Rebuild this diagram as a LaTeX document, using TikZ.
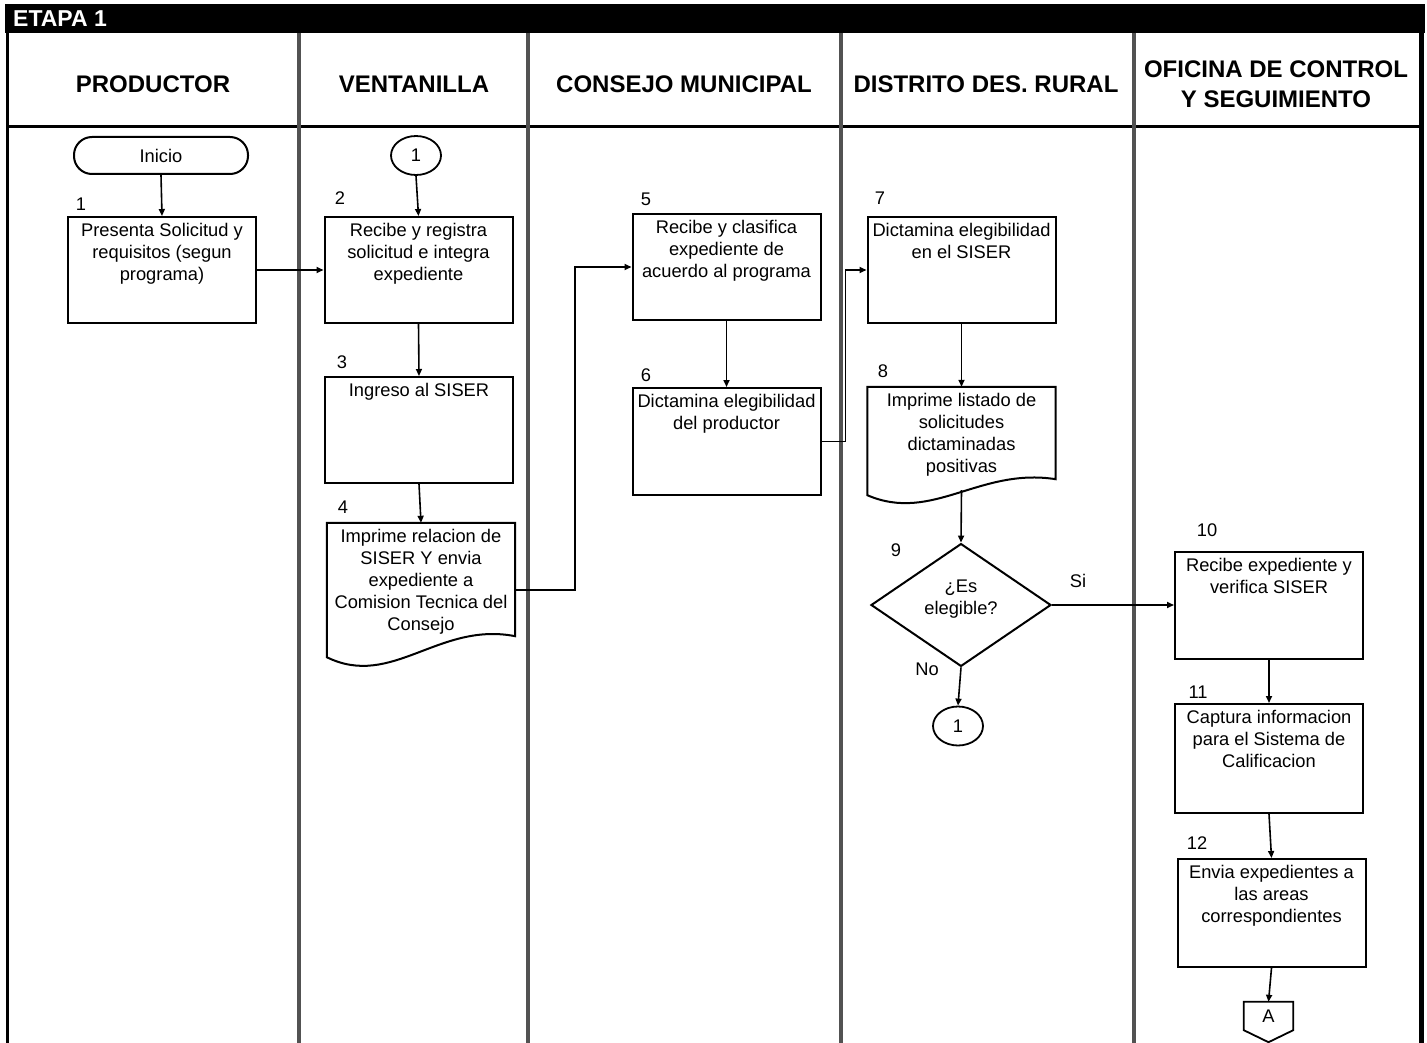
\documentclass[tikz,border=0pt]{standalone}
\usepackage{fontspec}
\setmainfont{Liberation Sans}
\usetikzlibrary{arrows.meta,shapes.geometric,calc}
\newcommand{\bt}[2]{\parbox[c][#1pt][t]{188pt}{\centering\rule{0pt}{19.5pt}#2}}
\begin{document}
\begin{tikzpicture}[x=1pt,y=-1pt,
  every node/.style={font=\fontsize{18.3}{22}\selectfont},
  box/.style={draw,line width=2pt,inner sep=0pt},
  docbox/.style={inner sep=0pt},
  doc/.style={draw,line width=2pt,line join=miter},
  conn/.style={draw,ellipse,line width=1.8pt,inner sep=0pt,minimum width=50pt,minimum height=39pt},
  arr/.style={line width=1.6pt,-{Triangle[length=7pt,width=6pt]}},
  lbl/.style={inner sep=0pt},
  hdr/.style={font=\fontsize{24}{30}\selectfont\bfseries,align=center,inner sep=0pt},
  sep/.style={line width=4pt,black!68},
  frame/.style={line width=3pt,black},
]
\useasboundingbox (0,0) rectangle (1427,1043);
% title bar
\fill[black] (5,4) rectangle (1425,33);
\node[anchor=west,text=white,font=\fontsize{23}{26}\selectfont\bfseries,inner sep=0pt] (etapa) at (13,19) {ETAPA 1};
% frame and lanes
\draw[frame] (7,33) -- (7,1043);
\draw[line width=5pt] (1421,33) -- (1421,1043);
\draw[frame] (7,126.5) -- (1421,126.5);
\foreach \x in {299,528,841,1134} \draw[sep] (\x,33) -- (\x,1043);
% headers
\node[hdr] (h1) at (153,84) {PRODUCTOR};
\node[hdr] (h2) at (414,84) {VENTANILLA};
\node[hdr] (h3) at (684,84) {CONSEJO MUNICIPAL};
\node[hdr] (h4) at (986,84) {DISTRITO DES. RURAL};
\node[hdr] (h5) at (1276,84) {OFICINA DE CONTROL\\Y SEGUIMIENTO};
% nodes
\node[box,rounded corners=18pt,minimum width=174pt,minimum height=37pt] (ini) at (161,155.5) {Inicio};
\node[conn] (c1) at (416,155.5) {1};
\node[box] (b1) at (162,270) {\bt{106}{Presenta Solicitud y\\requisitos (segun\\programa)}};
\node[box] (b2) at (418.5,270) {\bt{106}{Recibe y registra\\solicitud e integra\\expediente}};
\node[box] (b3) at (419,430) {\bt{106}{Ingreso al SISER}};
\node[docbox] (d4) at (421,590) {\bt{134}{Imprime relacion de\\SISER Y envia\\expediente a\\Comision Tecnica del\\Consejo}};
\draw[doc] (d4.north west) -- (d4.north east) -- ($(d4.south east)+(0,-21)$)
  .. controls ($(d4.south west)+(112,-36)$) and ($(d4.south west)+(65,32)$) .. (d4.south west) -- cycle;
\node[box] (b5) at (726.5,267) {\bt{106}{Recibe y clasifica\\expediente de\\acuerdo al programa}};
\node[box] (b6) at (726.5,441.5) {\bt{107}{Dictamina elegibilidad\\del productor}};
\node[box] (b7) at (961.5,270) {\bt{106}{Dictamina elegibilidad\\en el SISER}};
\node[docbox] (d8) at (961.5,441) {\bt{108}{Imprime listado de\\solicitudes\\dictaminadas\\positivas}};
\draw[doc] (d8.north west) -- (d8.north east) -- ($(d8.south east)+(0,-16)$)
  .. controls ($(d8.south west)+(112,-28)$) and ($(d8.south west)+(65,28)$) .. (d8.south west) -- cycle;
\coordinate (d8b) at ($(d8.south)+(0,-5)$);
\node[draw,diamond,line width=2pt,minimum width=180pt,minimum height=122pt,inner sep=0pt,align=center,text depth=15pt] (dia) at (961,605) {¿Es\\elegible?};
\node[conn] (c2) at (958,726) {1};
\node[box] (b10) at (1269,605) {\bt{107}{Recibe expediente y\\verifica SISER}};
\node[box] (b11) at (1269,758.5) {\bt{109}{Captura informacion\\para el Sistema de\\Calificacion}};
\node[box] (b12) at (1271.5,913) {\bt{108}{Envia expedientes a\\las areas\\correspondientes}};
\node[inner sep=0pt,minimum width=49pt,minimum height=28pt] (A) at (1268.5,1016) {A};
\draw[line width=1.8pt] (A.north west) -- (A.north east) -- (A.south east) -- ($(A.south)+(0,12)$) -- (A.south west) -- cycle;
% step numbers
\node[lbl] (n1) at (81,204) {1};
\node[lbl] (n2) at (340,198) {2};
\node[lbl] (n3) at (342,362) {3};
\node[lbl] (n4) at (343,507) {4};
\node[lbl] (n5) at (646,199) {5};
\node[lbl] (n6) at (646,375) {6};
\node[lbl] (n7) at (880,198) {7};
\node[lbl] (n8) at (883,371) {8};
\node[lbl] (n9) at (896,550) {9};
\node[lbl] (n10) at (1207,530) {10};
\node[lbl] (n11) at (1198,692) {11};
\node[lbl] (n12) at (1197,843) {12};
\node[lbl] (si) at (1078,581) {Si};
\node[lbl] (no) at (927,669) {No};
% connectors
\draw[arr] (ini.south) -- (b1.north);
\draw[arr] (b1.east) -- (b2.west);
\draw[arr] (c1.south) -- (b2.north);
\draw[arr] (b2.south) -- (b3.north);
\draw[arr] (b3.south) -- (d4.north);
\draw[arr] (d4.east) -- ++(60,0) |- (b5.west);
\draw[arr] (b5.south) -- (b6.north);
\draw[arr] (b6.east) -- ++(24,0) |- (b7.west);
\draw[arr] (b7.south) -- (d8.north);
\draw[arr] (d8b) -- (dia.north);
\draw[arr] (dia.east) -- (b10.west);
\draw[arr] (dia.south) -- (c2.north);
\draw[arr] (b10.south) -- (b11.north);
\draw[arr] (b11.south) -- (b12.north);
\draw[arr] (b12.south) -- (A.north);
\end{tikzpicture}
\end{document}
